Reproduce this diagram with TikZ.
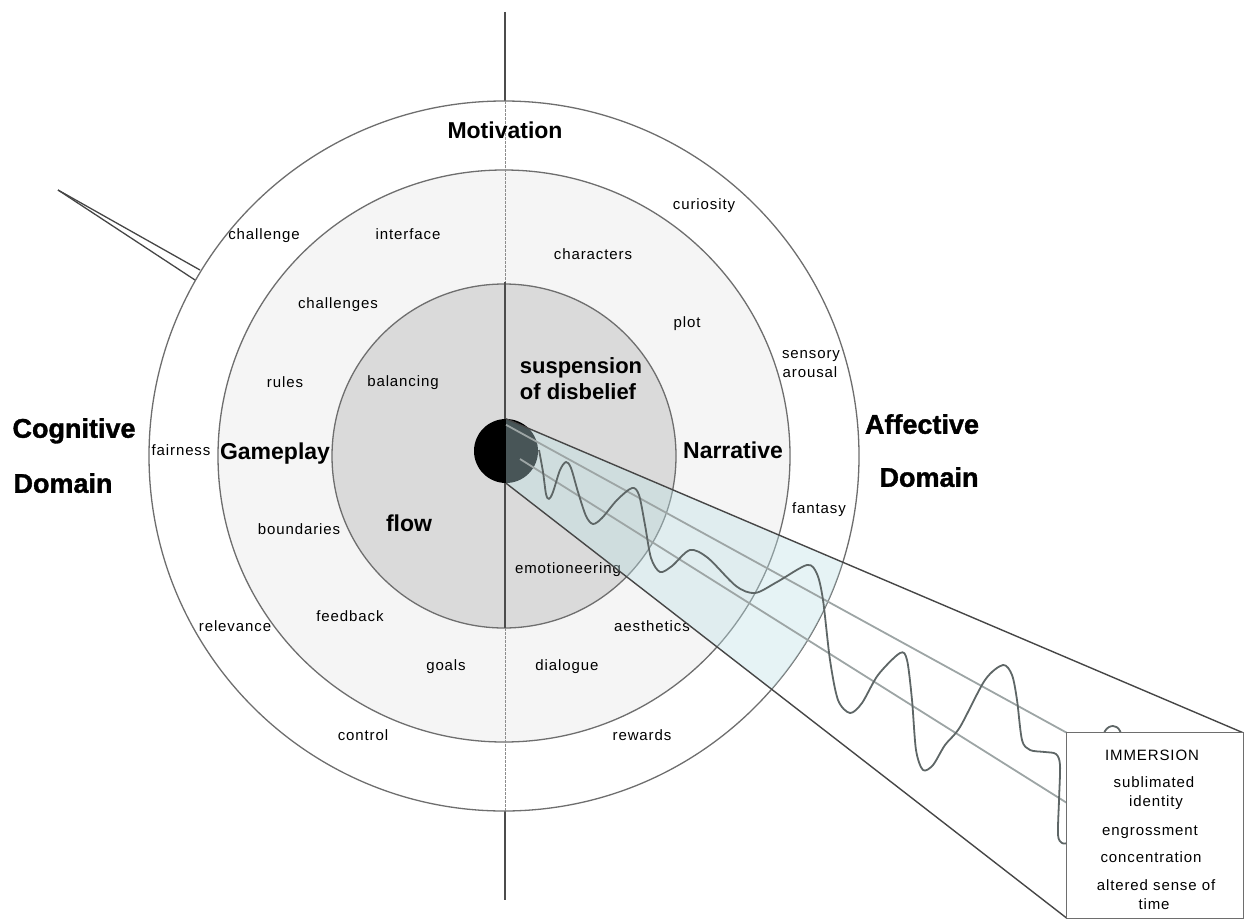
\documentclass[tikz,border=0pt]{standalone}
\usepackage{fontspec}
\setmainfont{Liberation Sans}
\newfontfamily\lblfont[LetterSpace=6.0]{Liberation Sans}
\newfontfamily\heavyfont[FakeBold=1.3]{Liberation Sans}
\usetikzlibrary{calc}
\definecolor{ringgray}{HTML}{F5F5F5}
\definecolor{coregray}{HTML}{DADADA}
\definecolor{edgegray}{HTML}{6E6E6E}
\definecolor{conecol}{RGB}{190,226,231}
\definecolor{wavecol}{HTML}{5E6666}
\definecolor{raygray}{HTML}{9DA5A5}
\definecolor{darkline}{HTML}{464646}
\begin{document}
\begin{tikzpicture}[x=1pt,y=-1pt,
  every node/.style={inner sep=0pt},
  lbl/.style={font=\lblfont\fontsize{15}{17}\selectfont, text height=10.5pt, text depth=0pt, anchor=center},
  boldlbl/.style={font=\bfseries\fontsize{23}{26}\selectfont, text height=16.5pt, text depth=0pt, anchor=center},
  domlbl/.style={font=\heavyfont\bfseries\fontsize{27}{30}\selectfont, text height=19.5pt, text depth=0pt, anchor=center},
  ring/.style={draw=edgegray, line width=1.3pt},
  vsolid/.style={draw=black!70, line width=1.3pt},
  vdash/.style={draw=black!45, line width=1pt, dash pattern=on 3pt off 1pt},
  edge/.style={draw=darkline, line width=1.4pt},
  ray/.style={draw=raygray, line width=1.8pt},
  wave/.style={draw=wavecol, line width=1.8pt, line join=round},
  boxframe/.style={draw=edgegray, fill=white, line width=1.2pt}]
\useasboundingbox (0,0) rectangle (1246,920);

% axis
\coordinate (C) at (504,456);
\coordinate (vtop) at (505,12);
\coordinate (vbot) at (505,900);
\draw[vsolid] (vtop) -- (vbot);

% rings
\filldraw[ring, fill=white] (C) circle (355pt);
\filldraw[ring, fill=ringgray] (C) circle (286pt);
\filldraw[ring, fill=coregray] (C) circle (172pt);
\draw[vdash] (505,101) -- (505,282);
\draw[vdash] (505,628) -- (505,811);
\draw[vsolid] (505,282) -- (505,628);

% placeholder for the immersion box
\node[minimum width=176pt, minimum height=185pt] (box) at (1155,825.5) {};

% labels
\node[boldlbl] (motivation) at (505,130) {Motivation};
\node[lbl] (challenge) at (264,234) {challenge};
\node[lbl] (interface) at (408,234) {interface};
\node[lbl] (characters) at (593,254) {characters};
\node[lbl] (curiosity) at (704,204) {curiosity};
\node[lbl] (challenges) at (338,303) {challenges};
\node[lbl] (plot) at (687,322) {plot};
\node[lbl] (rules) at (285,382) {rules};
\node[lbl] (balancing) at (403,381) {balancing};
\node[lbl] (sensory) at (811,353) {sensory};
\node[lbl] (arousal) at (810,372) {arousal};
\node[lbl] (fairness) at (181,450) {fairness};
\node[lbl] (fantasy) at (819,508) {fantasy};
\node[lbl] (boundaries) at (299,529) {boundaries};
\node[lbl] (emotioneering) at (568,568) {emotioneering};
\node[lbl] (feedback) at (350,616) {feedback};
\node[lbl] (relevance) at (235,626) {relevance};
\node[lbl] (aesthetics) at (652,626) {aesthetics};
\node[lbl] (goals) at (446,665) {goals};
\node[lbl] (dialogue) at (567,665) {dialogue};
\node[lbl] (control) at (363,735) {control};
\node[lbl] (rewards) at (642,735) {rewards};

\node[boldlbl, font=\bfseries\fontsize{22}{24}\selectfont] (suspension) at (581,365) {suspension};
\node[boldlbl, font=\bfseries\fontsize{22}{24}\selectfont] (disbelief) at (578,391) {of disbelief};
\node[boldlbl] (gameplay) at (275,451) {Gameplay};
\node[boldlbl] (narrative) at (733,450) {Narrative};
\node[boldlbl] (flow) at (409,523) {flow};

\node[domlbl] (cognitive) at (74,428) {Cognitive};
\node[domlbl] (cogdomain) at (63,483) {Domain};
\node[domlbl] (affective) at (922,424) {Affective};
\node[domlbl] (affdomain) at (929,477) {Domain};

% centre dot
\node[circle, fill=black, minimum size=64pt] (dot) at (506,451) {};

% cone of immersion, filled inside the outer ring
\begin{scope}
  \clip (C) circle (355pt);
  \fill[conecol, fill opacity=0.38] (dot.north) -- (box.north east) -- (box.south west) -- (dot.south) -- cycle;
\end{scope}

% rays
\coordinate (boxmid) at ($(box.north west)!0.378!(box.south west)$);
\coordinate (raytop) at ($(dot.north)+(0,6)$);
\coordinate (raymid) at ($(dot.center)+(14,8)$);
\draw[ray] (raytop) -- (box.north west);
\draw[ray] (raymid) -- (boxmid);
\draw[edge] (dot.north) -- (box.north east);
\draw[edge] (dot.south) -- (box.south west);

% wave
\draw[wave] plot[smooth, tension=0.5] coordinates {
 (539,450) (543,472) (546,494) (549,499) (553,492) (560,470) (566,462) (571,468)
 (578,492) (586,516) (593,524) (602,518) (617,500) (632,488) (639,495) (645,525)
 (651,558) (660,572) (672,566) (690,550) (708,558) (736,586) (755,593) (777,582)
 (807,565) (817,574) (823,600) (830,660) (838,700) (850,713) (862,703) (878,675)
 (900,653) (907,660) (912,700) (916,750) (923,770) (933,765) (945,745) (960,727)
 (985,680) (1003,665) (1012,675) (1017,700) (1022,740) (1030,750) (1045,752)
 (1056,754) (1060,765) (1059,800) (1058,835) (1062,843) (1068,843)};
\draw[wave] plot[smooth, tension=0.6] coordinates {(1101,748) (1105,731) (1113,726) (1120,731) (1124,748)};

% box
\filldraw[boxframe] (box.north west) rectangle (box.south east);
\node[lbl] (immersion) at (1152,755) {IMMERSION};
\node[lbl] (sublimated) at (1154,782) {sublimated};
\node[lbl] (identity) at (1156,801) {identity};
\node[lbl] (engrossment) at (1150,830) {engrossment};
\node[lbl] (concentration) at (1151,857) {concentration};
\node[lbl] (altered) at (1156,885) {altered sense of};
\node[lbl] (time) at (1154,904) {time};

% spike at the upper left
\coordinate (spiketip) at (58,190);
\coordinate (spikeA) at (200,270);
\coordinate (spikeB) at (195,280);
\draw[edge, line width=1.3pt] (spiketip) -- (spikeA);
\draw[edge, line width=1.3pt] (spiketip) -- (spikeB);
\end{tikzpicture}
\end{document}
